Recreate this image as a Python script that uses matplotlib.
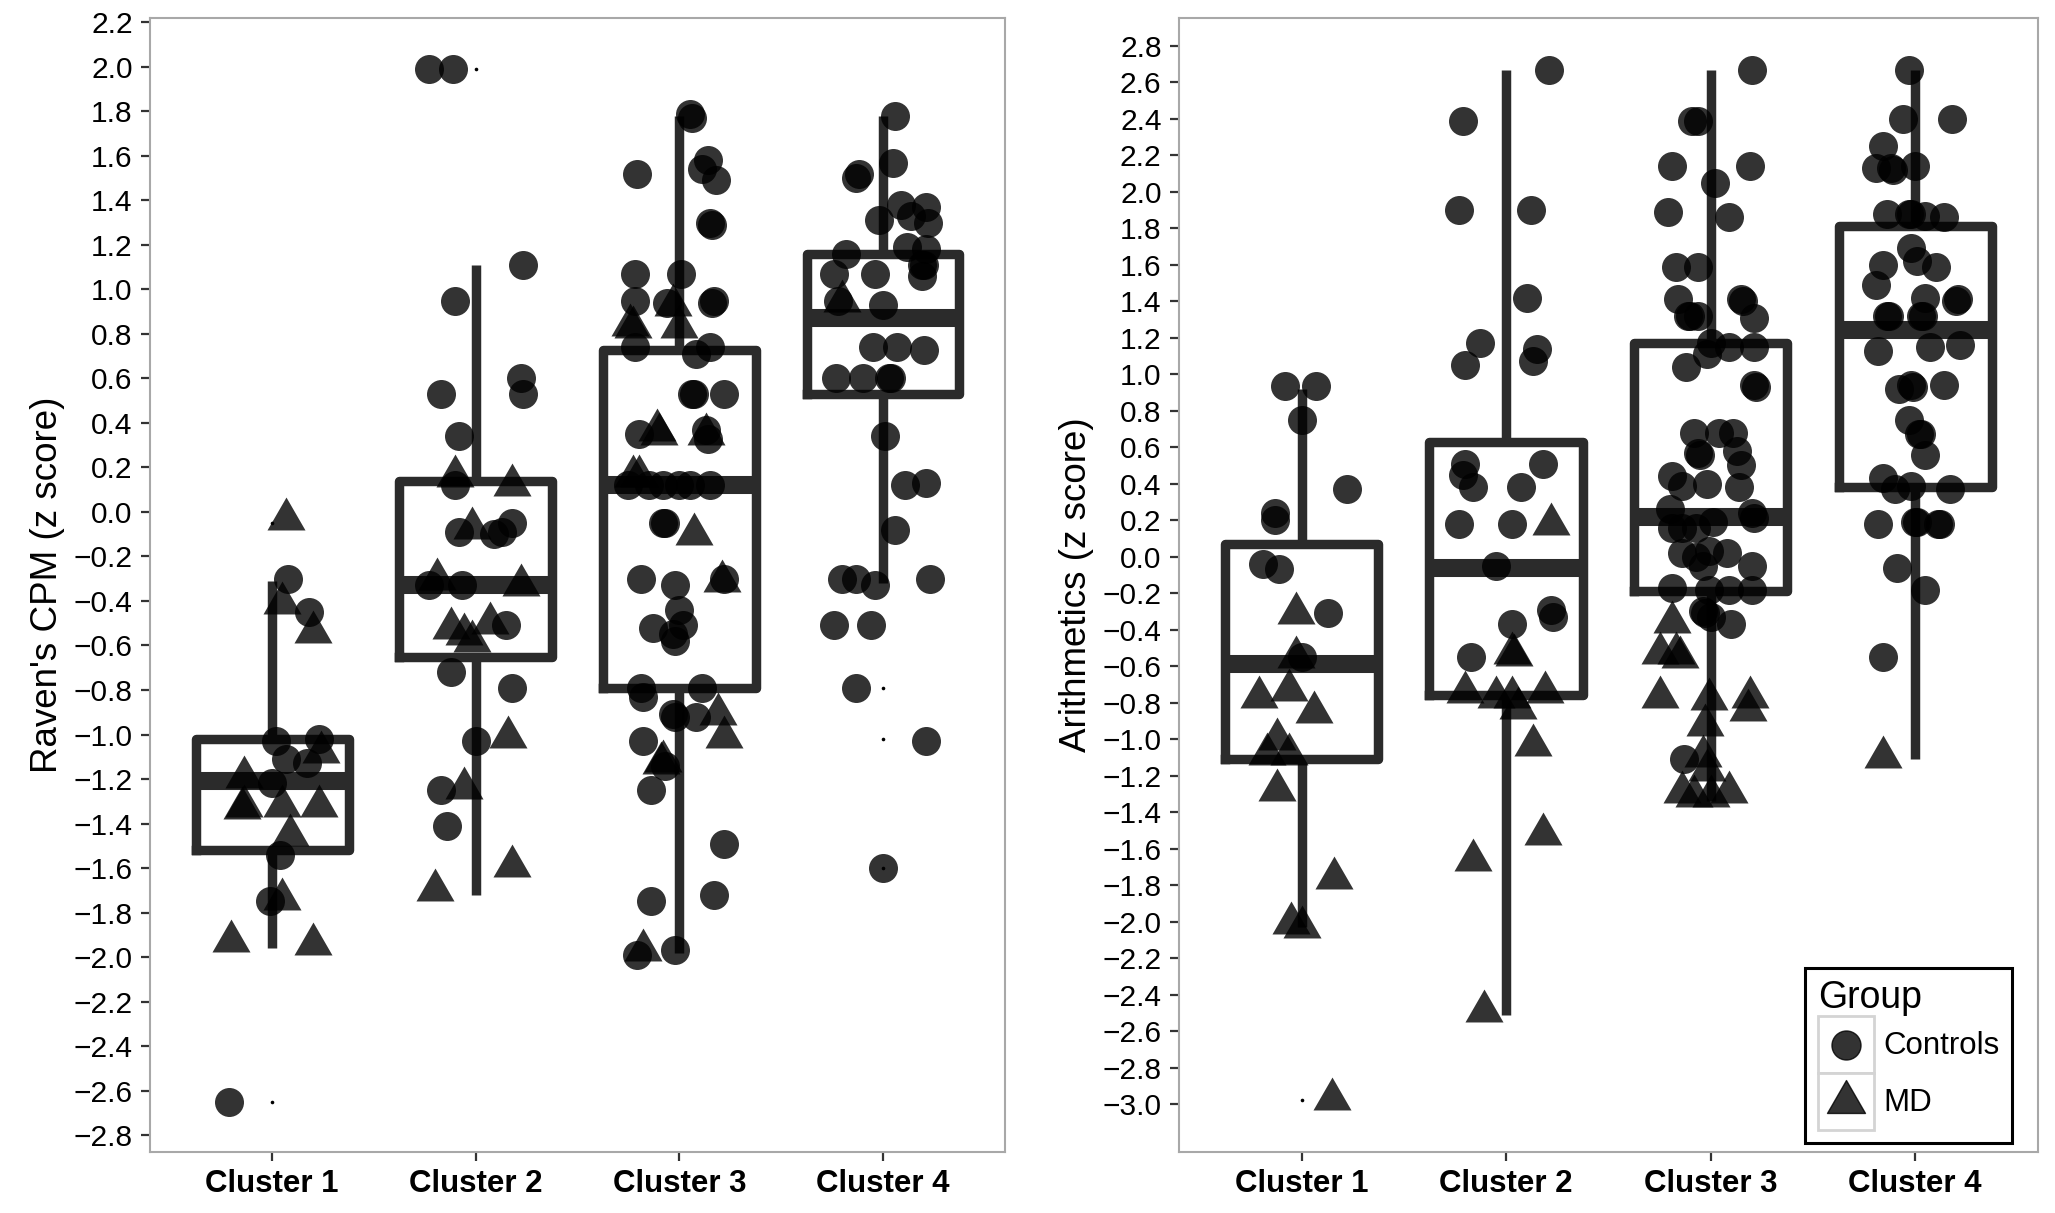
import matplotlib
matplotlib.use("Agg")
import matplotlib.pyplot as plt
import numpy as np
from matplotlib.lines import Line2D
from matplotlib.patches import Rectangle
from matplotlib.path import Path
from matplotlib.legend_handler import HandlerBase

plt.rcParams['font.family'] = ['Liberation Sans', 'DejaVu Sans']

clusters = ["Cluster 1", "Cluster 2", "Cluster 3", "Cluster 4"]
groups = ["Controls", "MD"]

# ---- Raven's CPM (left panel) ----
raven_ctrl = [
    [-0.30, -0.45, -1.03, -1.02, -1.11, -1.13, -1.22, -1.54, -1.75, -2.65],
    [1.99, 1.99, 1.11, 0.95, 0.60, 0.53, 0.53, 0.34, 0.12, -0.05, -0.09, -0.09, -0.10,
     -0.33, -0.33, -0.51, -0.72, -0.79, -1.03, -1.25, -1.41],
    [1.79, 1.77, 1.52, 1.58, 1.54, 1.49, 1.30, 1.29, 1.07, 1.07, 0.95, 0.94, 0.95, 0.94,
     0.74, 0.74, 0.71, 0.53, 0.53, 0.53, 0.35, 0.37, 0.33, 0.12, 0.12, 0.12, 0.12, 0.12,
     0.12, -0.05, -0.05, -0.30, -0.30, -0.33, -0.44, -0.52, -0.51, -0.55, -0.58, -0.79,
     -0.79, -0.83, -0.91, -0.92, -0.92, -1.03, -1.14, -1.25, -1.49, -1.72, -1.75, -1.99,
     -1.97],
    [1.78, 1.57, 1.52, 1.50, 1.38, 1.37, 1.33, 1.31, 1.30, 1.19, 1.18, 1.16, 1.11, 1.11,
     1.07, 1.07, 1.06, 0.95, 0.93, 0.74, 0.74, 0.73, 0.60, 0.60, 0.60, 0.60, 0.34, 0.12,
     0.13, -0.08, -0.30, -0.30, -0.33, -0.30, -0.51, -0.51, -0.79, -1.03, -1.60],
]
raven_ctrl_jit = [
    [0.08, 0.18, 0.02, 0.23, 0.07, 0.17, 0.00, 0.04, -0.01, -0.21],
    [-0.23, -0.11, 0.23, -0.10, 0.22, 0.23, -0.17, -0.08, -0.10, 0.18, -0.08, 0.13, 0.09,
     -0.23, -0.07, 0.15, -0.12, 0.18, 0.00, -0.17, -0.14],
    [0.05, 0.06, -0.21, 0.14, 0.11, 0.18, 0.15, 0.16, -0.22, 0.01, -0.22, -0.06, 0.17, 0.16,
     -0.22, 0.15, 0.08, 0.07, 0.06, 0.22, -0.20, 0.13, 0.14, -0.25, -0.15, -0.08, 0.00, 0.05,
     0.15, -0.08, -0.07, -0.19, 0.22, -0.02, 0.00, -0.13, 0.02, -0.03, -0.02, -0.19,
     0.11, -0.18, -0.03, -0.02, 0.08, -0.18, -0.07, -0.14, 0.22, 0.17, -0.14, -0.21,
     -0.02],
    [0.06, 0.05, -0.12, -0.13, 0.09, 0.21, 0.14, -0.02, 0.22, 0.12, 0.21, -0.18, 0.19, 0.20,
     -0.24, -0.04, 0.19, -0.22, 0.00, -0.05, 0.07, 0.20, -0.23, -0.10, 0.04, 0.03, 0.01, 0.11,
     0.21, 0.06, -0.20, -0.13, -0.04, 0.23, -0.24, -0.06, -0.13, 0.21, 0.00],
]
raven_md = [
    [-0.03, -0.41, -0.54, -1.08, -1.19, -1.32, -1.33, -1.32, -1.32, -1.45, -1.74, -1.93, -1.94],
    [0.16, 0.12, -0.07, -0.30, -0.33, -0.52, -0.55, -0.50, -0.58, -1.01, -1.24, -1.59, -1.70],
    [0.93, 0.84, 0.83, 0.83, 0.37, 0.35, 0.35, 0.16, 0.16, -0.10, -0.31, -0.91, -1.01,
     -1.13, -1.12, -1.97],
    [0.95],
]
raven_md_jit = [
    [0.07, 0.05, 0.20, 0.24, -0.14, -0.14, -0.15, 0.05, 0.23, 0.09, 0.05, -0.20, 0.20],
    [-0.10, 0.18, -0.02, -0.19, 0.22, -0.12, -0.06, 0.07, -0.02, 0.16, -0.06, 0.18, -0.20],
    [-0.03, -0.24, -0.23, 0.00, -0.11, -0.10, 0.13, -0.23, -0.20, 0.07, 0.21, 0.19, 0.22,
     -0.09, -0.08, -0.18],
    [-0.20],
]
raven_whislo = [-1.96, -1.72, -1.98, -0.32]
raven_q1 = [-1.52, -0.65, -0.79, 0.53]
raven_med = [-1.21, -0.33, 0.12, 0.87]
raven_q3 = [-1.02, 0.14, 0.73, 1.16]
raven_whishi = [-0.31, 1.11, 1.78, 1.78]
raven_fliers = [[-0.05, -2.65], [1.99], [], [-0.79, -1.02, -1.60]]

# ---- Arithmetics (right panel) ----
arith_ctrl = [
    [0.935, 0.935, 0.75, 0.37, 0.24, 0.20, -0.04, -0.07, -0.31, -0.55],
    [2.67, 2.39, 1.90, 1.90, 1.42, 1.17, 1.14, 1.07, 1.05, 0.51, 0.51, 0.45, 0.38, 0.38,
     0.18, 0.18, -0.05, -0.29, -0.33, -0.37, -0.55],
    [2.67, 2.39, 2.39, 2.14, 2.14, 2.05, 1.89, 1.86, 1.59, 1.59, 1.41, 1.41, 1.40, 1.32,
     1.32, 1.32, 1.31, 1.17, 1.15, 1.15, 1.11, 1.04, 0.94, 0.93, 0.68, 0.68, 0.68, 0.57,
     0.56, 0.58, 0.50, 0.44, 0.39, 0.40, 0.38, 0.26, 0.16, 0.16, 0.16, 0.19, 0.24, 0.21,
     0.02, 0.00, 0.03, 0.02, -0.05, -0.05, -0.17, -0.18, -0.18, -0.18, -0.30, -0.31,
     -0.37, -0.33, -1.11],
    [2.67, 2.40, 2.40, 2.25, 2.13, 2.13, 2.12, 2.14, 1.88, 1.88, 1.88, 1.87, 1.86, 1.69,
     1.60, 1.62, 1.59, 1.49, 1.32, 1.32, 1.32, 1.32, 1.42, 1.41, 1.40, 1.13, 1.15, 1.16,
     0.92, 0.94, 0.93, 0.94, 0.75, 0.67, 0.67, 0.56, 0.43, 0.37, 0.39, 0.37, 0.18, 0.19,
     0.19, 0.18, 0.18, -0.06, -0.18, -0.55],
]
arith_ctrl_jit = [
    [-0.08, 0.07, 0.00, 0.22, -0.13, -0.13, -0.19, -0.11, 0.13, 0.00],
    [0.21, -0.21, -0.23, 0.12, 0.10, -0.13, 0.15, 0.13, -0.20, -0.20, 0.18, -0.21, -0.16, 0.07,
     -0.23, 0.03, -0.05, 0.22, 0.23, 0.03, -0.17],
    [0.20, -0.09, -0.06, -0.19, 0.19, 0.02, -0.21, 0.09, -0.17, -0.06, -0.16, 0.15, 0.16, -0.11,
     -0.10, -0.06, 0.21, 0.00, 0.09, 0.21, -0.02, -0.12, 0.21, 0.22, -0.08, 0.04, 0.11, -0.06,
     -0.05, 0.13, 0.15, -0.19, -0.14, -0.02, 0.14, -0.20, -0.19, -0.14, -0.07, 0.01, 0.20, 0.21,
     -0.14, -0.07, -0.01, 0.08, -0.04, 0.20, -0.19, -0.01, 0.09, 0.20, -0.04, -0.03,
     0.10, 0.00, -0.13],
    [-0.03, -0.06, 0.18, -0.16, -0.19, -0.12, -0.11, 0.00, -0.14, -0.03, -0.02, 0.05, 0.14, -0.02,
     -0.16, 0.01, 0.10, -0.19, -0.14, -0.13, 0.03, 0.04, 0.05, 0.21, 0.20, -0.18, 0.07, 0.22,
     -0.08, -0.02, -0.01, 0.14, -0.03, 0.02, 0.03, 0.05, -0.16, -0.10, -0.02, 0.17, -0.18, 0.00,
     0.01, 0.11, 0.12, -0.09, 0.05, -0.16],
]
arith_md = [
    [-0.31, -0.55, -0.73, -0.77, -0.85, -1.00, -1.08, -1.08, -1.28, -1.76, -2.01, -2.03, -2.97],
    [0.18, -0.53, -0.54, -0.74, -0.77, -0.77, -0.74, -0.83, -1.03, -1.52, -1.66, -2.49],
    [-0.36, -0.53, -0.53, -0.55, -0.77, -0.78, -0.77, -0.84, -0.92, -1.09, -1.17, -1.29,
     -1.31, -1.31, -1.29],
    [-1.10],
]
arith_md_jit = [
    [-0.03, -0.03, -0.06, -0.21, 0.06, -0.12, -0.17, -0.06, -0.12, 0.16, -0.05, 0.00, 0.15],
    [0.22, 0.03, 0.04, -0.20, -0.05, 0.03, 0.19, 0.06, 0.13, 0.18, -0.16, -0.11],
    [-0.19, -0.25, -0.17, -0.15, -0.25, -0.01, 0.19, 0.18, -0.03, -0.04, -0.02, -0.14,
     -0.08, 0.00, 0.09],
    [-0.16],
]
arith_whislo = [-2.03, -2.51, -1.34, -1.11]
arith_q1 = [-1.11, -0.76, -0.19, 0.38]
arith_med = [-0.59, -0.06, 0.22, 1.24]
arith_q3 = [0.07, 0.63, 1.17, 1.81]
arith_whishi = [0.92, 2.67, 2.67, 2.67]
arith_fliers = [[-2.98], [], [], []]

BOX = "#2b2b2b"
TRI = Path([(-1, -0.5774), (1, -0.5774), (0, 1.1547), (-1, -0.5774)],
           [Path.MOVETO, Path.LINETO, Path.LINETO, Path.CLOSEPOLY])
CIRCLE_S = 436
TRI_S = 1000


class KeyHandler(HandlerBase):
    # grey key box with the marker in the middle, like the ggplot legend
    def create_artists(self, legend, orig_handle, xdescent, ydescent,
                       width, height, fontsize, trans):
        box = Rectangle((-xdescent, -ydescent), width, height, fc="white",
                        ec="#d4d4d4", lw=2, transform=trans)
        mk = Line2D([-xdescent + width / 2], [-ydescent + height / 2],
                    marker=orig_handle.get_marker(), ms=orig_handle.get_markersize(),
                    color="black", alpha=0.8, ls="none", transform=trans)
        return [box, mk]


def draw_panel(ax, ctrl, ctrl_jit, md, md_jit, whislo, q1, med, q3, whishi, fliers,
               ylim, ticks, ylabel):
    pos = np.arange(1, len(clusters) + 1)
    stats = []
    for i in range(len(clusters)):
        stats.append(dict(whislo=whislo[i], q1=q1[i], med=med[i], q3=q3[i],
                          whishi=whishi[i], fliers=fliers[i], label=clusters[i]))
    ax.bxp(stats, positions=pos, widths=0.75, showcaps=False,
           boxprops=dict(color=BOX, lw=6.8),
           whiskerprops=dict(color=BOX, lw=6.8, solid_capstyle="butt"),
           medianprops=dict(color=BOX, lw=13, solid_capstyle="butt"),
           flierprops=dict(marker="o", ms=2.6, mfc="black", mec="none"),
           zorder=2)
    for i in range(len(clusters)):
        ax.scatter(pos[i] + np.array(ctrl_jit[i]), ctrl[i], s=CIRCLE_S, marker="o",
                   c="black", alpha=0.8, linewidths=0, zorder=3)
        ax.scatter(pos[i] + np.array(md_jit[i]), md[i], s=TRI_S, marker=TRI,
                   c="black", alpha=0.8, linewidths=0, zorder=3)

    ax.set_xlim(0.4, 4.6)
    ax.set_ylim(*ylim)
    ax.set_xticks(pos)
    ax.set_xticklabels(clusters, fontsize=22.5, fontweight="bold")
    ax.set_yticks(ticks)
    ax.set_yticklabels(["%.1f" % t if t >= 0 else "\u2212%.1f" % -t for t in ticks],
                       fontsize=21.5)
    ax.tick_params(axis="both", colors="#333333", labelcolor="black",
                   length=6.5, width=1.6, pad=6)
    for sp in ax.spines.values():
        sp.set_color("#a8a8a8")
        sp.set_linewidth(1.5)
    ax.set_ylabel(ylabel, fontsize=26.5, labelpad=6)


fig = plt.figure(figsize=(20.55, 12.13), dpi=100)
ax1 = fig.add_axes([0.0730, 0.0503, 0.4161, 0.9349])
ax2 = fig.add_axes([0.5737, 0.0503, 0.4180, 0.9349])

raven_ticks = np.round(np.arange(-2.8, 2.21, 0.2), 1) + 0.0
arith_ticks = np.round(np.arange(-3.0, 2.81, 0.2), 1) + 0.0

draw_panel(ax1, raven_ctrl, raven_ctrl_jit, raven_md, raven_md_jit,
           raven_whislo, raven_q1, raven_med, raven_q3, raven_whishi, raven_fliers,
           (-2.876, 2.220), raven_ticks, "Raven's CPM (z score)")
draw_panel(ax2, arith_ctrl, arith_ctrl_jit, arith_md, arith_md_jit,
           arith_whislo, arith_q1, arith_med, arith_q3, arith_whishi, arith_fliers,
           (-3.263, 2.953), arith_ticks, "Arithmetics (z score)")

handles = [Line2D([], [], marker="o", ms=20.9, ls="none"),
           Line2D([], [], marker=TRI, ms=31.6, ls="none")]
leg = ax2.legend(handles, groups, handler_map={Line2D: KeyHandler()}, title="Group",
                 loc="lower right", bbox_to_anchor=(0.97, 0.008), borderaxespad=0,
                 frameon=True, fancybox=False, framealpha=1, edgecolor="black",
                 fontsize=22.5, title_fontsize=27, alignment="left",
                 handlelength=1.8, handleheight=2.43, labelspacing=0,
                 handletextpad=0.3, borderpad=0.4)
leg.get_frame().set_linewidth(2.2)

fig.savefig("out.png", dpi=100)
